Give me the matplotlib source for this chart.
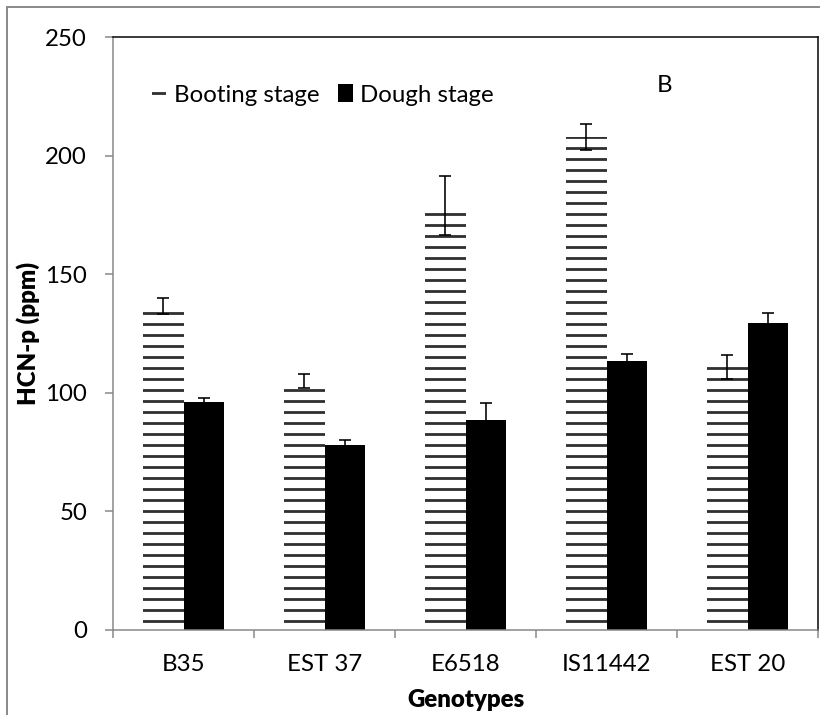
import numpy as np
import matplotlib.pyplot as plt
from matplotlib.patches import Rectangle

# === Data ===
genotypes = ["B35", "EST 37", "E6518", "IS11442", "EST 20"]
booting = [136.5, 105.0, 179.0, 208.0, 111.0]
booting_err = [3.4, 3.0, 12.4, 5.5, 5.0]
dough = [96.0, 78.0, 88.5, 113.5, 129.5]
dough_err = [2.0, 2.0, 7.0, 3.0, 4.0]
y_ticks = [0, 50, 100, 150, 200, 250]

# === Figure setup (dpi chosen so hatch spacing matches) ===
DPI = 200 / 3
W, H = 820, 715


def pt(px):
    return px * 72 / DPI


plt.rcParams['font.family'] = ['Lato', 'DejaVu Sans']
plt.rcParams['hatch.linewidth'] = pt(2.8)

fig = plt.figure(figsize=(W / DPI, H / DPI), dpi=DPI)
fig.patches.append(Rectangle((7 / W, -0.02), 1.05, 1 - 7 / H + 0.02,
                             transform=fig.transFigure, fill=False,
                             edgecolor='#8c8c8c', linewidth=pt(2)))

ax = fig.add_axes([113 / W, 1 - 630 / H, (818 - 113) / W, (630 - 37) / H])

x = np.arange(len(genotypes))
bw = 0.284
err_kw = dict(ecolor='black', elinewidth=pt(1.6), capsize=pt(6), capthick=pt(1.6))

ax.bar(x - bw / 2, booting, bw, yerr=booting_err, color='white',
       edgecolor='#303030', linewidth=0, hatch='-', label='Booting stage',
       error_kw=err_kw, zorder=2)
ax.bar(x + bw / 2, dough, bw, yerr=dough_err, color='black',
       edgecolor='black', linewidth=0, label='Dough stage',
       error_kw=err_kw, zorder=2)

ax.set_xlim(-0.5, len(genotypes) - 0.5)
ax.set_ylim(0, 250)
ax.set_yticks(y_ticks)
ax.set_xticks(x)
ax.set_xticklabels(genotypes)
ax.set_xticks(np.arange(-0.5, len(genotypes)), minor=True)

fs = pt(24)
ax.tick_params(axis='y', length=pt(8), width=pt(1.5), color='#868686',
               labelsize=fs, pad=pt(18))
ax.tick_params(axis='x', which='major', length=0, labelsize=fs, pad=pt(24))
ax.tick_params(axis='x', which='minor', length=pt(8), width=pt(1.5),
               color='#868686')

for side in ['left', 'bottom']:
    ax.spines[side].set_color('#868686')
    ax.spines[side].set_linewidth(pt(1.5))
for side in ['top', 'right']:
    ax.spines[side].set_color('black')
    ax.spines[side].set_linewidth(pt(1.5))

ax.set_ylabel('HCN-p (ppm)', fontsize=fs, fontweight='heavy')
ax.yaxis.set_label_coords(-(113 - 40) / 705, 0.5)
ax.set_xlabel('Genotypes', fontsize=fs, fontweight='heavy')
ax.xaxis.set_label_coords(0.5, -(689 - 630) / 593)

ax.legend(loc='center left', bbox_to_anchor=((152 - 113) / 705, (630 - 95) / 593),
          frameon=False, fontsize=fs, ncol=2, handlelength=0.6,
          handleheight=0.75, handletextpad=0.3, columnspacing=0.8,
          borderpad=0, borderaxespad=0)

ax.text((665 - 113) / 705, (630 - 86) / 593, 'B', transform=ax.transAxes,
        fontsize=fs, ha='center', va='center')

fig.savefig('out.png', dpi=DPI)
